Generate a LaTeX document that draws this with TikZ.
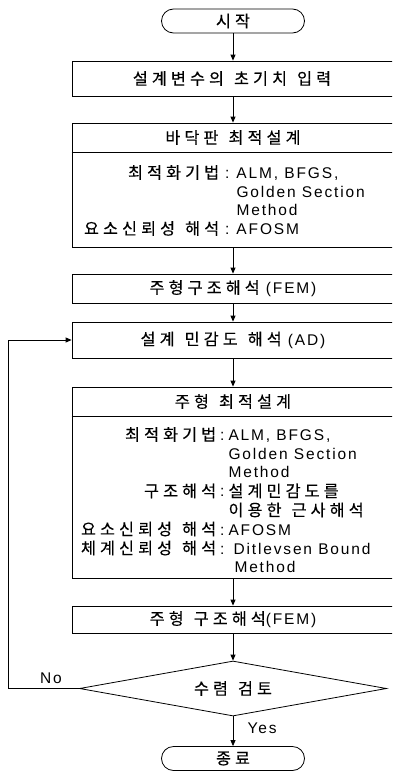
\documentclass[tikz,border=0pt]{standalone}
\usepackage{fontspec}
\usepackage{array}
\setmainfont{Liberation Sans}[LetterSpace=12]
\newfontfamily\krfont{Noto Sans CJK KR}[Scale=1.05,LetterSpace=25,WordSpace=1.3,FakeBold=0.3]
\newcommand\hk[1]{{\krfont #1}}
\usetikzlibrary{shapes.geometric,arrows.meta}
\tikzset{
  box/.style={draw, line width=0.8pt, minimum width=322pt, inner sep=0pt},
  term/.style={draw, line width=0.8pt, rounded corners=12pt, minimum width=143pt, minimum height=24pt, inner sep=0pt},
  dec/.style={draw, line width=0.8pt, diamond, minimum width=307pt, minimum height=55pt, inner sep=0pt},
  arr/.style={-{Triangle[length=6pt,width=5pt]}, line width=0.8pt},
  txt/.style={font=\fontsize{15.5}{18.5}\selectfont, inner sep=0pt},
  divider/.style={line width=0.8pt},
}
\begin{document}
\begin{tikzpicture}[x=1pt,y=-1pt]
\useasboundingbox (0,0) rectangle (392,771);
\clip (0,0) rectangle (392,771);
% nodes
\node[term] (s) at (233,21) {};
\node[txt] (st) at (233,21) {\hk{시작}};
\node[box, minimum height=35pt] (b1) at (233,78.5) {};
\node[txt] (t1) at (232,78.5) {\hk{설계변수의 초기치 입력}};
\node[box, minimum height=124pt] (b2) at (233,185) {};
\draw[divider] (b2.west |- 0,152) -- (b2.east |- 0,152);
\node[txt] (h2) at (233,137.5) {\hk{바닥판 최적설계}};
\node[txt, anchor=base west] (t2) at (69,178.5) {%
  \begin{tabular}[t]{@{}>{\raggedleft\arraybackslash}p{150pt}@{\hspace{6pt}}c@{\hspace{7pt}}l@{}}
  \hk{최적화기법} & : & ALM, BFGS,\\
   & & Golden Section\\
   & & Method\\
  \hk{요소신뢰성 해석} & : & AFOSM
  \end{tabular}};
\node[box, minimum height=29pt] (b3) at (233,288.5) {};
\node[txt] (t3) at (233,288.5) {\hk{주형구조해석} (FEM)};
\node[box, minimum height=36pt] (b4) at (233,340) {};
\node[txt] (t4) at (233,340) {\hk{설계 민감도 해석} (AD)};
\node[box, minimum height=191pt] (b5) at (233,482.5) {};
\draw[divider] (b5.west |- 0,416) -- (b5.east |- 0,416);
\node[txt] (h5) at (233,401.5) {\hk{주형 최적설계}};
\node[txt, anchor=base west, font=\fontsize{15.5}{18.7}\selectfont] (t5) at (66,440.5) {%
  \begin{tabular}[t]{@{}>{\raggedleft\arraybackslash}p{150pt}@{\hspace{4pt}}c@{\hspace{4pt}}l@{}}
  \hk{최적화기법} & : & ALM, BFGS,\\
   & & Golden Section\\
   & & Method\\
  \hk{구조해석} & : & \hk{설계민감도를}\\
   & & \hk{이용한 근사해석}\\
  \hk{요소신뢰성 해석} & : & AFOSM\\
  \hk{체계신뢰성 해석} & : & \hspace{5pt}Ditlevsen Bound\\
   & & \hspace{6pt}Method
  \end{tabular}};
\node[box, minimum height=27pt] (b6) at (233,619.5) {};
\node[txt] (t6) at (233,619.5) {\hk{주형 구조해석}(FEM)};
\node[dec] (d) at (233,688.5) {};
\node[txt] (dt) at (233,688.5) {\hk{수렴 검토}};
\node[term] (e) at (233,758.5) {};
\node[txt] (et) at (233,758.5) {\hk{종료}};
\node[txt] (no) at (51,678) {No};
\node[txt] (yes) at (262,728) {Yes};
\coordinate (lp) at (8,0);
% connectors
\draw[arr] (s) -- (b1);
\draw[arr] (b1) -- (b2);
\draw[arr] (b2) -- (b3);
\draw[arr] (b3) -- (b4);
\draw[arr] (b4) -- (b5);
\draw[arr] (b5) -- (b6);
\draw[arr] (b6) -- (d);
\draw[arr] (d) -- (e);
\draw[arr] (d.west) -- (d.west -| lp) |- (b4.west);
\end{tikzpicture}
\end{document}
